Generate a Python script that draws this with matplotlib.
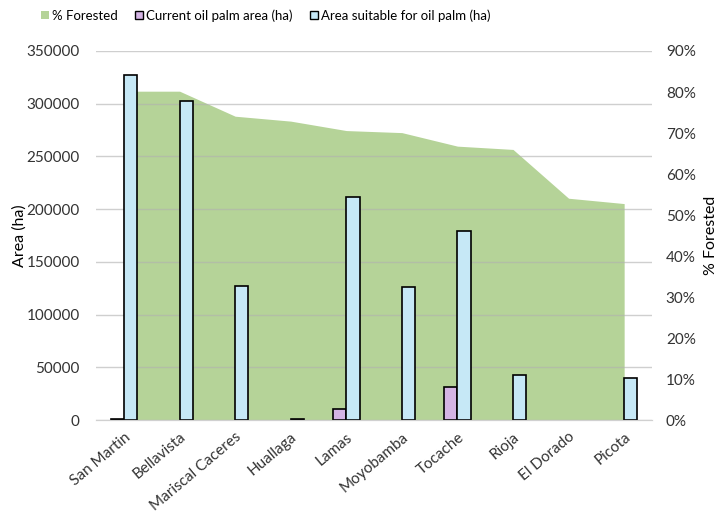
import matplotlib.pyplot as plt
import matplotlib.transforms as mtransforms
import numpy as np
from matplotlib.patches import Patch

# datos
provincias = ['San Martin', 'Bellavista', 'Mariscal Caceres', 'Huallaga', 'Lamas',
              'Moyobamba', 'Tocache', 'Rioja', 'El Dorado', 'Picota']
pct_forestado = [80.2, 80.2, 74.1, 72.9, 70.6, 70.1, 66.8, 66.0, 54.1, 52.8]
palma_actual = [1500, 0, 0, 0, 10700, 0, 31000, 0, 0, 0]
area_apta = [327500, 302200, 127500, 1500, 211400, 126600, 179700, 42700, 0, 40200]

verde = '#b5d398'
morado = '#d4b4e4'
celeste = '#c6e8f6'

plt.rcParams['font.family'] = ['Lato', 'DejaVu Sans']
plt.rcParams['font.size'] = 11

fig = plt.figure(figsize=(7.18, 5.13), dpi=100)
ax = fig.add_axes([0.134, 0.181, 0.774, 0.7196])  # area (% forestado), eje derecho
ax2 = ax.twinx()  # barras, eje izquierdo

x = np.arange(len(provincias))
ax.fill_between(x, pct_forestado, 0, color=verde, linewidth=0)
ax.set_ylim(0, 90)
ax.set_xlim(-0.5, len(provincias) - 0.5)
ax.yaxis.tick_right()
ax.yaxis.set_label_position('right')
ax.set_yticks(np.arange(0, 91, 10))
ax.set_yticklabels([f'{v}%' for v in range(0, 91, 10)])
ax.set_ylabel('% Forested', fontsize=11.5, labelpad=6)

# solo barras con valor (las de cero no se dibujan)
w = 0.24
pa = np.array(palma_actual, dtype=float)
aa = np.array(area_apta, dtype=float)
m1 = pa > 0
m2 = aa > 0
ax2.bar(x[m1] - w / 2, pa[m1], w, color=morado, edgecolor='black', linewidth=1.2)
ax2.bar(x[m2] + w / 2, aa[m2], w, color=celeste, edgecolor='black', linewidth=1.2)
ax2.set_ylim(0, 350000)
ax2.yaxis.tick_left()
ax2.yaxis.set_label_position('left')
ax2.set_yticks(np.arange(0, 350001, 50000))
ax2.set_yticklabels([str(v) for v in range(0, 350001, 50000)])
ax2.set_ylabel('Area (ha)', fontsize=11.5, labelpad=0)
ax2.set_axisbelow(True)
ax2.grid(axis='y', color='#b0b0b0', alpha=0.6, linewidth=1)

ax.set_xticks(x)
ax.set_xticklabels(provincias, rotation=40, ha='right', rotation_mode='anchor', fontsize=11)
offset = mtransforms.ScaledTranslation(14 / 72, 0, fig.dpi_scale_trans)
for lbl in ax.get_xticklabels():
    lbl.set_transform(lbl.get_transform() + offset)

for a in (ax, ax2):
    for s in ('top', 'left', 'right'):
        a.spines[s].set_visible(False)
    a.spines['bottom'].set_color('#d0d0d0')
    a.tick_params(length=0, colors='#333333')
    a.tick_params(axis='y', labelsize=11)
ax.tick_params(axis='x', pad=7)
ax.tick_params(axis='y', pad=10)
ax2.tick_params(axis='y', pad=12)

handles = [Patch(facecolor=verde, edgecolor='none', label='% Forested'),
           Patch(facecolor=morado, edgecolor='black', label='Current oil palm area (ha)'),
           Patch(facecolor=celeste, edgecolor='black', label='Area suitable for oil palm (ha)')]
fig.legend(handles=handles, loc='upper center', bbox_to_anchor=(0.37, 1.005), ncol=3,
           frameon=False, fontsize=9.5, handlelength=0.6, handleheight=0.6,
           handletextpad=0.25, columnspacing=1.3)

fig.savefig('out.png', dpi=100)
